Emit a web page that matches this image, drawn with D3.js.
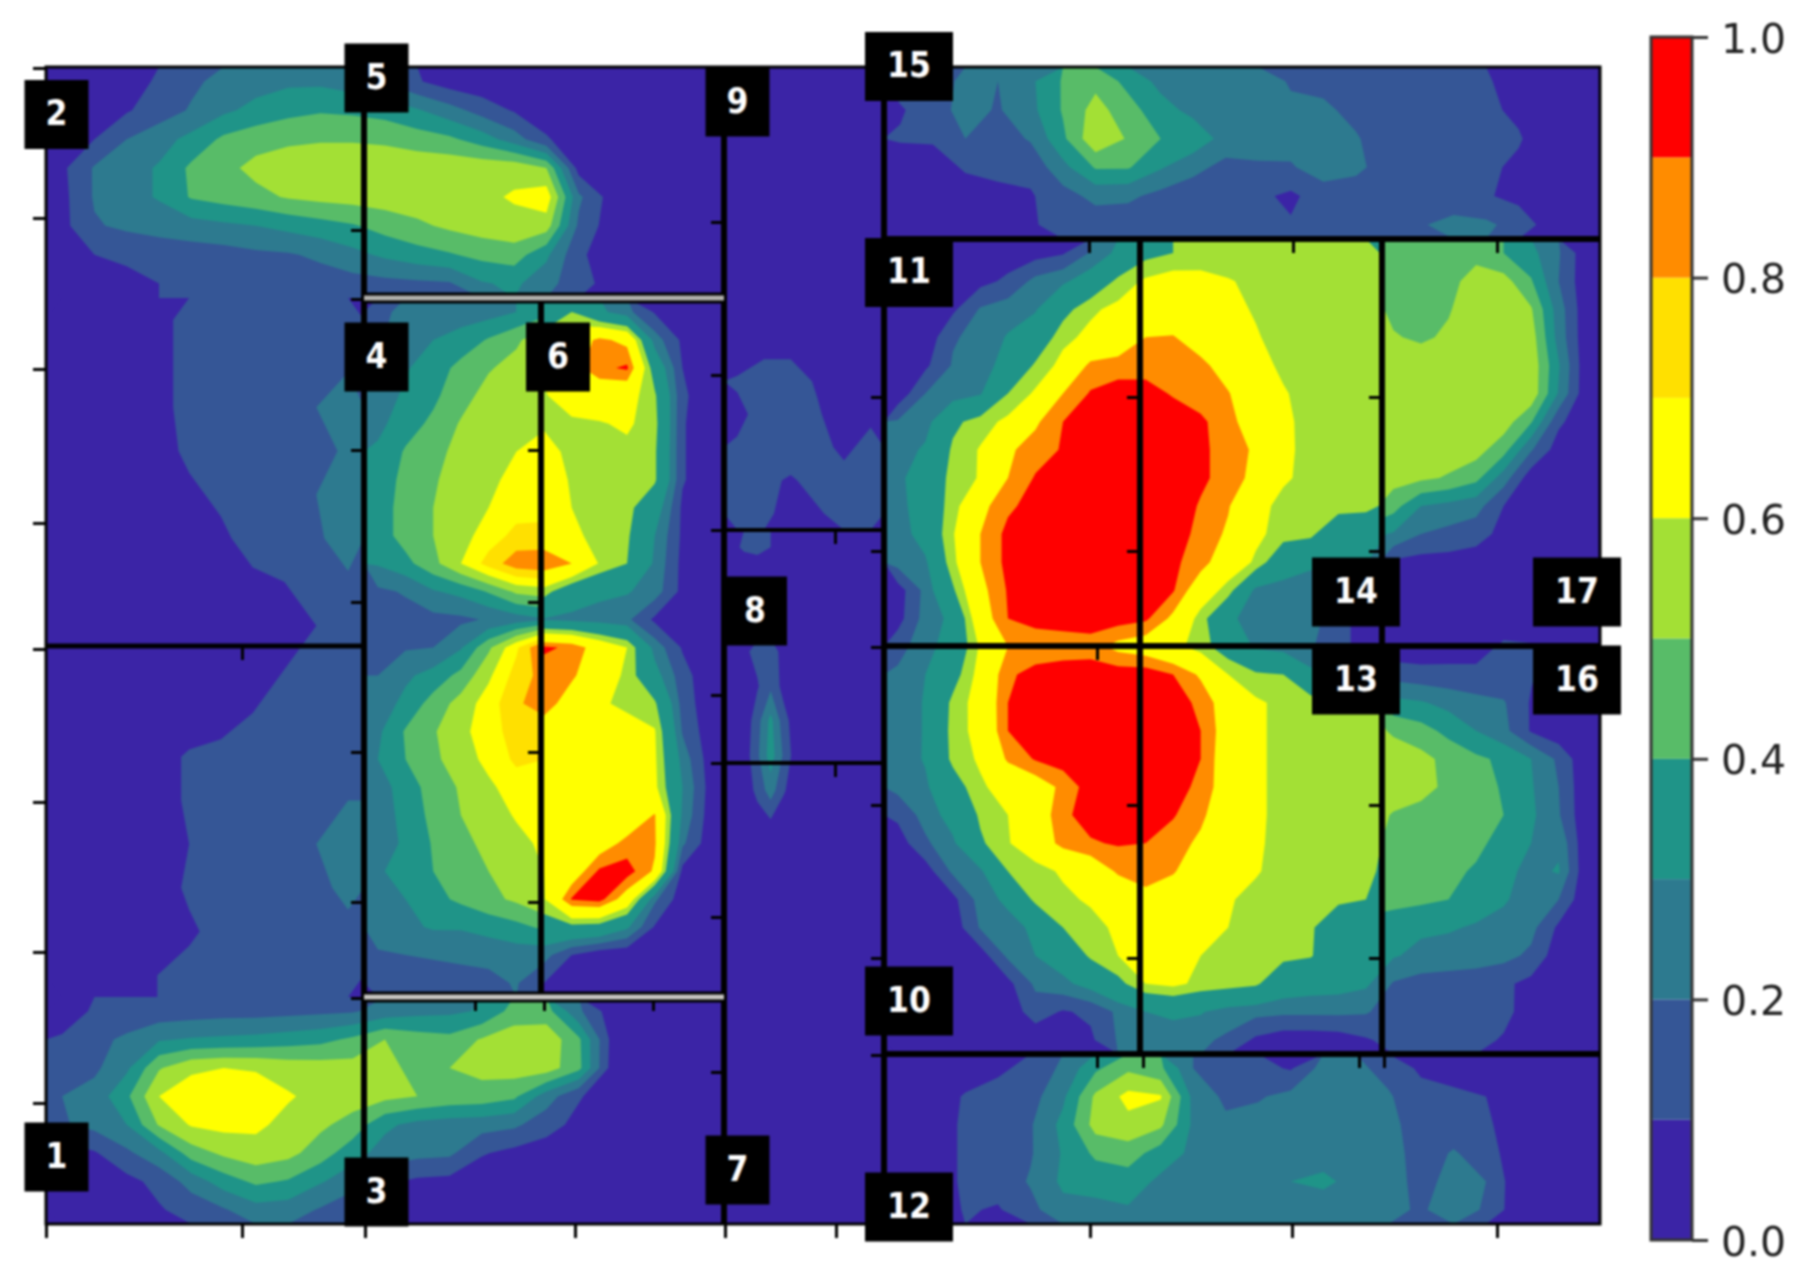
<!DOCTYPE html>
<html>
<head>
<meta charset="utf-8">
<script src="https://cdn.jsdelivr.net/npm/d3@7"></script>
<style>
  html, body { margin: 0; background: #fff; }
  svg { display: block; filter: blur(0.8px); }
</style>
</head>
<body>
<script>
// contour levels and colours (values are in hundredths)
var levels = [0, 10, 20, 30, 40, 50, 60, 70, 80, 90];
var levelColors = ["#3b24a6", "#355696", "#2d7a8f", "#1f9488", "#58bc68", "#a3e035", "#ffff00", "#ffe000", "#ff8c00", "#ff0000"];
var colorbarTicks = [0, 0.2, 0.4, 0.6, 0.8, 1.0];
var panelLabels = ["1", "2", "3", "4", "5", "6", "7", "8", "9", "10", "11", "12", "13", "14", "15", "16", "17"];

// sensor readings, one array per block of the picture
var topLeft = [
  [3,4,7,11,18,23,26,28,28,25,19,11,5,3,2,1,1,1,1,1,1],
  [4,6,9,15,21,28,33,37,39,38,36,31,24,16,9,5,3,2,1,1,1],
  [6,10,20,26,33,42,46,48,49,49,48,45,42,35,25,11,4,2,1,1,1],
  [8,21,26,31,42,47,53,56,57,57,57,57,57,57,57,50,6,2,1,1,1],
  [7,21,26,31,41,44,47,51,53,54,55,56,57,58,61,66,22,6,2,1,1],
  [7,19,22,24,26,28,30,33,36,39,44,48,52,55,57,55,18,5,2,1,1],
  [4,10,12,14,15,16,18,19,22,27,32,36,39,43,45,32,12,4,2,1,1],
  [2,4,7,10,12,13,13,14,15,16,17,18,19,29,32,24,13,7,3,2,1]
];
var midLeft = [
  [2,3,5,8,12,13,14,15,16,18],
  [2,3,5,8,12,13,14,15,17,19],
  [2,3,5,8,12,13,14,16,20,24],
  [2,3,5,8,11,13,14,15,18,21],
  [2,3,4,6,9,11,13,15,20,23],
  [1,2,3,5,7,9,12,15,19,23],
  [1,1,2,4,6,8,9,10,13,19],
  [1,1,1,2,3,4,5,7,10,13],
  [1,1,1,2,4,6,8,10,12,14],
  [1,1,2,3,5,7,10,12,14,16],
  [1,2,4,7,11,12,13,14,16,19],
  [1,2,4,7,11,12,13,15,17,20],
  [1,2,4,7,10,12,13,15,20,24],
  [1,2,4,7,11,12,13,15,18,22],
  [1,2,4,6,9,12,13,14,15,18],
  [1,2,5,10,12,13,14,15,16,18]
];
var center = [
  [18,22,24,25,26,30,36,50,33,23,9,3,2],
  [19,24,30,34,41,48,58,70,83,76,25,8,3],
  [22,29,35,43,49,54,62,75,87,92,42,10,3],
  [24,32,38,46,54,57,59,66,69,66,52,12,3],
  [27,36,42,51,55,57,59,58,59,62,54,11,3],
  [32,41,47,53,56,60,63,58,57,57,52,11,3],
  [34,43,49,54,57,64,66,59,56,56,52,11,3],
  [35,44,50,55,60,66,68,60,55,54,38,8,3],
  [35,44,50,56,65,73,72,63,56,52,30,8,3],
  [31,37,47,60,74,86,88,80,59,50,28,7,3],
  [18,21,29,33,41,52,55,38,33,31,25,7,3],
  [15,16,17,18,21,25,29,27,25,22,8,4,2],
  [17,19,20,29,48,68,92,88,72,60,26,9,3],
  [20,28,34,43,58,74,84,82,70,57,35,14,3],
  [24,33,44,54,65,78,86,73,62,57,52,16,3],
  [28,41,49,57,66,74,72,66,66,66,61,19,4],
  [30,40,48,55,63,72,70,66,66,66,62,26,5],
  [26,34,45,51,58,65,68,66,66,66,63,30,6],
  [25,33,43,50,55,61,67,67,67,68,81,28,5],
  [27,31,41,47,53,57,62,67,72,84,82,22,4],
  [29,33,40,46,50,56,60,70,92,95,78,7,3],
  [25,30,37,42,47,52,59,91,94,72,22,4,2],
  [24,28,31,31,34,37,42,46,44,32,9,3,2],
  [19,20,21,22,23,25,24,10,3,2,2,2,1],
  [12,14,15,16,17,21,10,3,2,2,2,1,1]
];
var bottomLeft = [
  [6,11,13,14,15,16,16,17,18,19,24,27,28,31,44,44,22,5,2,1,1],
  [11,17,22,29,31,32,33,35,37,42,50,45,43,51,56,57,42,8,2,1,1],
  [12,18,28,49,58,60,59,56,55,54,53,47,50,53,55,55,43,7,2,1,1],
  [20,24,38,60,66,68,66,61,57,55,53,50,47,46,42,25,11,4,2,1,1],
  [19,23,30,51,61,63,62,57,52,46,32,27,25,24,22,14,7,3,1,1,1],
  [5,9,18,27,45,52,56,53,45,34,26,23,22,11,7,5,3,1,1,1,1],
  [1,4,7,13,24,35,42,39,31,24,12,8,7,3,2,1,1,1,1,1,1],
  [1,2,4,9,14,19,26,25,19,13,7,3,2,1,1,1,1,1,1,1,1]
];
var columnUpper = [
  [2,2,2,2,2,2],
  [2,2,2,2,2,2],
  [2,2,2,2,2,2],
  [2,2,2,2,2,2],
  [2,2,2,2,2,2],
  [2,2,2,2,2,2],
  [2,2,2,2,2,2],
  [3,3,3,3,2,3],
  [5,8,8,4,3,3],
  [11,14,14,9,4,10],
  [8,13,15,11,5,8],
  [11,14,15,13,8,13],
  [12,12,9,13,13,14],
  [13,13,5,9,13,14]
];
var columnLower = [
  [8,11,12,10,5,3,3,3,3,3,3,3],
  [3,3,3,3,3,2,2,2,2,2,2,2],
  [2,3,3,3,3,2,2,2,2,2,2,2],
  [2,8,13,14,7,2,2,2,2,2,2,2],
  [2,3,9,18,6,2,2,2,2,2,2,2],
  [2,3,16,33,14,3,2,2,2,2,2,2],
  [2,4,18,35,18,3,2,2,2,2,2,2],
  [2,3,13,25,11,3,2,2,2,2,2,2],
  [2,2,4,7,3,2,2,2,2,2,2,2],
  [2,2,2,2,2,2,2,2,2,2,2,2],
  [2,2,2,2,2,2,2,2,2,2,2,2],
  [2,2,2,2,2,2,2,2,2,2,2,2],
  [2,2,2,2,2,2,2,2,2,2,2,2],
  [2,2,2,2,2,2,2,2,2,2,2,2],
  [2,2,2,2,2,2,2,2,2,2,2,2],
  [2,2,2,2,2,2,2,2,2,2,2,2],
  [2,2,2,2,2,2,2,2,2,2,2,2],
  [2,2,2,2,2,2,2,2,2,2,2,2],
  [2,2,2,2,2,2,2,2,2,2,2,2],
  [2,2,2,2,2,2,2,2,2,2,2,2]
];
var topRight = [
  [14,16,22,20,28,41,47,37,27,25,24,25,19,17,15,14,13,14,11,6,3,2],
  [9,15,24,19,27,41,54,44,34,27,25,30,22,22,17,14,13,13,12,8,3,2],
  [11,11,20,15,21,38,58,49,40,37,26,30,24,24,21,14,13,13,12,11,3,2],
  [4,6,11,13,13,27,41,41,31,23,17,17,19,25,23,14,13,13,12,8,3,2],
  [3,4,6,7,9,16,23,22,17,14,13,12,8,15,13,13,13,12,11,7,3,2],
  [3,3,4,5,9,13,14,14,13,12,12,12,11,12,13,15,19,24,22,16,5,2]
];
var midRight = [
  [3,3,3,4,5,6,9,21,33,46,50,52,52,53,53,53,53,53,47,48,48,47,40,33,21,3],
  [3,3,4,7,12,23,28,37,53,62,66,65,61,57,56,56,56,55,46,46,47,54,54,41,20,3],
  [3,3,8,21,25,29,45,58,63,66,68,66,63,59,57,57,57,56,47,46,49,57,58,51,25,3],
  [3,3,19,23,31,38,57,63,67,80,81,71,66,61,56,56,56,56,51,48,52,57,58,55,26,3],
  [3,8,21,26,34,52,64,83,86,86,86,84,72,64,58,56,56,56,56,57,57,57,57,57,31,3],
  [3,20,24,29,50,62,80,91,94,94,89,85,81,66,61,56,56,56,56,57,57,57,57,57,29,3],
  [21,25,47,55,63,78,90,95,96,96,96,92,84,72,62,57,56,56,56,56,56,56,55,41,12,3],
  [24,32,52,61,78,85,91,96,97,97,96,92,86,78,63,56,56,56,56,56,55,54,44,21,5,3],
  [27,38,54,61,80,91,94,96,97,97,96,92,86,76,62,56,56,56,54,52,49,43,25,4,3,2],
  [25,39,55,76,88,94,96,96,97,97,96,89,81,65,56,56,56,55,44,30,27,24,10,3,2,2],
  [24,36,59,80,93,95,96,97,97,97,95,87,78,63,55,53,35,33,29,20,17,14,7,3,2,2],
  [24,28,57,80,93,95,96,97,97,96,92,85,70,58,37,32,31,31,8,6,6,5,4,3,2,2],
  [5,23,48,76,91,95,96,97,97,96,91,70,55,27,26,25,24,22,5,3,3,3,3,3,2,2],
  [6,24,33,72,90,94,95,96,95,92,77,55,33,24,24,24,14,5,3,3,3,3,3,3,2,2],
  [16,26,36,62,80,83,84,85,76,72,64,55,42,28,25,21,14,5,3,3,5,5,12,11,3,2],
  [22,30,44,65,88,94,96,96,96,96,90,78,60,52,50,33,30,26,16,14,13,13,12,11,4,2],
  [23,31,53,66,90,94,96,96,96,96,94,88,71,62,57,56,56,56,33,31,27,23,21,9,3,2],
  [23,31,54,65,90,95,96,96,96,96,95,90,72,62,57,56,56,56,48,44,37,30,23,9,3,2],
  [24,31,53,62,82,91,95,96,96,96,95,90,70,62,57,56,56,56,57,53,47,42,38,30,18,2],
  [23,28,43,58,66,72,83,95,96,96,95,87,72,62,57,56,56,56,57,53,48,44,39,31,20,2],
  [12,24,35,52,60,70,88,94,96,96,91,82,72,62,57,56,56,56,49,47,46,44,40,32,21,2],
  [5,18,28,48,59,70,84,89,91,90,84,78,70,62,56,55,55,55,46,45,44,42,37,30,28,2],
  [3,5,22,28,50,55,62,69,82,85,81,72,67,61,56,55,54,53,45,43,42,39,33,27,31,2],
  [3,3,7,24,33,53,57,62,67,76,72,68,61,57,55,54,53,50,44,42,40,35,31,26,20,2],
  [3,3,4,21,25,33,50,55,63,68,66,63,60,56,54,52,37,33,33,32,31,29,27,23,8,2],
  [3,3,3,5,22,30,37,52,60,66,66,60,56,55,53,51,38,33,31,27,26,25,23,18,4,2],
  [3,2,2,3,7,22,27,35,46,60,63,57,55,52,39,36,35,32,19,16,15,14,12,7,3,2],
  [3,2,2,2,4,15,9,12,22,30,33,31,25,23,22,22,22,21,15,14,14,14,13,5,3,2],
  [2,2,2,2,2,3,4,8,21,24,23,22,18,8,4,4,5,9,13,13,13,13,9,3,2,2]
];
var bottomRight = [
  [3,3,4,8,13,22,38,48,42,20,15,13,9,24,22,17,8,4,3,3,2,2],
  [3,4,11,14,16,28,52,63,61,27,18,19,23,25,26,21,14,13,10,3,2,2],
  [3,4,12,13,19,33,54,57,52,28,22,24,25,25,26,23,15,14,12,3,2,2],
  [3,4,12,13,19,31,42,45,35,28,26,25,25,26,26,25,15,21,15,3,2,2],
  [3,4,12,14,21,32,34,35,28,26,25,27,30,32,27,24,17,23,20,3,2,2],
  [2,3,11,9,17,27,27,29,22,23,24,24,24,25,24,22,19,24,19,3,2,2]
];

// tick positions in plot units
var leftTicks = [1, 151, 302, 456, 582, 735, 885, 1036];
var bottomTicks = [0, 196, 319, 529, 679, 790, 1044, 1246, 1451];
var innerA = [163, 232, 383, 535, 685, 835, 931];
var innerB = [383, 535, 685, 835];
var innerC = [155, 308, 463, 628, 696, 850, 1005];
var innerD = [330, 484, 580, 738, 891, 988];
var innerE = [330, 484, 738, 891];

var svg = d3.select("body").append("svg")
    .attr("width", 1808)
    .attr("height", 1279);

var x = d3.scaleLinear().domain([0, 1554]).range([46, 1600]);
var y = d3.scaleLinear().domain([0, 1157]).range([67, 1224]);

var color = d3.scaleOrdinal().domain(levels).range(levelColors);
var defs = svg.append("defs");

// each block: readings, extent in plot units [x0, x1, y0, y1], levels it skips, part of it to show
var blocks = [
  [topLeft, [0, 678, 0, 231], []],
  [midLeft, [0, 318, 231, 930], []],
  [center, [318, 678, 231, 930], [], [318, 495, 231, 930]],
  [center, [318, 678, 231, 930], [40, 70], [495, 678, 231, 930]],
  [bottomLeft, [0, 678, 930, 1157], []],
  [columnUpper, [678, 838, 0, 463], []],
  [columnLower, [678, 838, 463, 1157], []],
  [topRight, [838, 1554, 0, 172], []],
  [midRight, [838, 1554, 172, 987], [40, 70], [838, 1336, 172, 987]],
  [midRight, [838, 1554, 172, 987], [70], [1336, 1554, 172, 987]],
  [bottomRight, [838, 1554, 987, 1157], []]
];

blocks.forEach(function(b, i) {
  var rows = b[0], box = b[1], skip = b[2], part = b[3] || box;
  var n = rows[0].length, m = rows.length;
  var sx = d3.scaleLinear().domain([0, n]).range([x(box[0]), x(box[1])]);
  var sy = d3.scaleLinear().domain([0, m]).range([y(box[2]), y(box[3])]);
  var thresholds = levels.filter(function(l) { return skip.indexOf(l) < 0; });
  var contours = d3.contours().size([n, m]).thresholds(thresholds)(d3.merge(rows));
  var path = d3.geoPath(d3.geoTransform({
    point: function(px, py) { this.stream.point(sx(px), sy(py)); }
  }));
  defs.append("clipPath").attr("id", "part" + i).append("rect")
      .attr("x", x(part[0])).attr("y", y(part[2]))
      .attr("width", x(part[1]) - x(part[0])).attr("height", y(part[3]) - y(part[2]));
  var g = svg.append("g").attr("clip-path", "url(#part" + i + ")");
  // contours chamfer the grid corners, so lay the lowest colour under them
  g.append("rect")
      .attr("x", x(part[0])).attr("y", y(part[2]))
      .attr("width", x(part[1]) - x(part[0])).attr("height", y(part[3]) - y(part[2]))
      .attr("fill", levelColors[0]);
  g.selectAll("path")
      .data(contours)
      .join("path")
      .attr("d", path)
      .attr("fill", function(d) { return color(d.value); });
});

// ticks sit under the grid lines
function tickLeft(at, vals) {
  svg.append("g")
      .attr("transform", "translate(" + x(at) + ",0)")
      .call(d3.axisLeft(y).tickValues(vals).tickSize(13).tickFormat(""))
      .call(styleTicks);
}
function tickDown(at, vals) {
  svg.append("g")
      .attr("transform", "translate(0," + y(at) + ")")
      .call(d3.axisBottom(x).tickValues(vals).tickSize(14).tickFormat(""))
      .call(styleTicks);
}
function styleTicks(g) {
  g.select(".domain").remove();
  g.selectAll(".tick line").attr("stroke", "#000").attr("stroke-width", 3);
}

tickLeft(0, leftTicks);
tickDown(1157, bottomTicks);
tickLeft(318, innerA);
tickLeft(495, innerB);
tickLeft(678, innerC);
tickLeft(838, innerD);
tickLeft(1094, innerE);
tickLeft(1336, innerE);
tickDown(172, [1043, 1247, 1451]);
tickDown(579, [196, 1051]);
tickDown(987, [1051, 1097, 1313, 1338]);
tickDown(930, [429, 498, 607]);
tickDown(463, [789]);
tickDown(696, [789]);

function line(x0, y0, x1, y1, w, col) {
  svg.append("line")
      .attr("x1", x(x0)).attr("y1", y(y0))
      .attr("x2", x(x1)).attr("y2", y(y1))
      .attr("stroke", col || "#000")
      .attr("stroke-width", w);
}

// grid lines between the sensor blocks
line(318, 0, 318, 1157, 6);
line(678, 0, 678, 1157, 6);
line(838, 0, 838, 1157, 6);
line(495, 231, 495, 930, 6);
line(0, 579, 318, 579, 5);
line(838, 579, 1554, 579, 6);
line(838, 172, 1554, 172, 6);
line(838, 987, 1554, 987, 6);
line(1094, 172, 1094, 987, 6);
line(1336, 172, 1336, 987, 6);
line(678, 463, 838, 463, 4);
line(678, 696, 838, 696, 4);
line(318, 231, 678, 231, 11);
line(318, 231, 678, 231, 5, "#b4b2ae");
line(318, 930, 678, 930, 11);
line(318, 930, 678, 930, 5, "#c8c6c2");
svg.append("rect")
    .attr("x", x(0)).attr("y", y(0))
    .attr("width", x(1554) - x(0)).attr("height", y(1157) - y(0))
    .attr("fill", "none").attr("stroke", "#000").attr("stroke-width", 3);

// numbered sensor tags, same order as panelLabels
var tagSpots = [[10.5, 1090], [10.5, 47.5], [330.5, 1125], [330.5, 290], [330.5, 11], [512, 290], [691.5, 1103], [709, 544], [691.5, 35],
  [863, 934], [863, 205.5], [863, 1140], [1310, 613], [1310, 525], [863, -0.5], [1531, 613], [1531, 525]];

var tags = svg.append("g").selectAll("g")
    .data(panelLabels)
    .join("g")
    .attr("transform", function(d, i) { return "translate(" + x(tagSpots[i][0]) + "," + y(tagSpots[i][1]) + ")"; });
tags.append("rect")
    .attr("x", function(d) { return d.length > 1 ? -44 : -32; })
    .attr("width", function(d) { return d.length > 1 ? 88 : 64; })
    .attr("y", -34.5)
    .attr("height", 69)
    .attr("fill", "#000");
tags.append("text")
    .attr("text-anchor", "middle")
    .attr("dy", "0.3em")
    .attr("fill", "#fff")
    .attr("font-family", "'DejaVu Sans Condensed', 'DejaVu Sans', sans-serif")
    .attr("font-weight", "bold")
    .attr("font-stretch", "condensed")
    .attr("font-size", 35)
    .text(function(d) { return d; });

// colour bar
var cb = d3.scaleLinear().domain([0, 1]).range([1240, 37]);
var cbBand = svg.append("g");
cbBand.selectAll("rect")
    .data(levels)
    .join("rect")
    .attr("x", 1651)
    .attr("width", 41)
    .attr("y", function(d) { return cb((d + 10) / 100); })
    .attr("height", function(d) { return cb(d / 100) - cb((d + 10) / 100); })
    .attr("fill", function(d) { return color(d); });
cbBand.append("rect")
    .attr("x", 1651).attr("y", cb(1))
    .attr("width", 41).attr("height", cb(0) - cb(1))
    .attr("fill", "none").attr("stroke", "#333").attr("stroke-width", 3);

svg.append("g")
    .attr("transform", "translate(1692,0)")
    .call(d3.axisRight(cb).tickValues(colorbarTicks).tickSize(16).tickPadding(13).tickFormat(d3.format(".1f")))
    .call(function(g) {
      g.select(".domain").remove();
      g.selectAll(".tick line").attr("stroke", "#333").attr("stroke-width", 3);
      g.selectAll(".tick text")
          .attr("font-family", "'DejaVu Sans', sans-serif")
          .attr("font-size", 41)
          .attr("y", 2)
          .attr("fill", "#222");
    });
</script>
</body>
</html>
